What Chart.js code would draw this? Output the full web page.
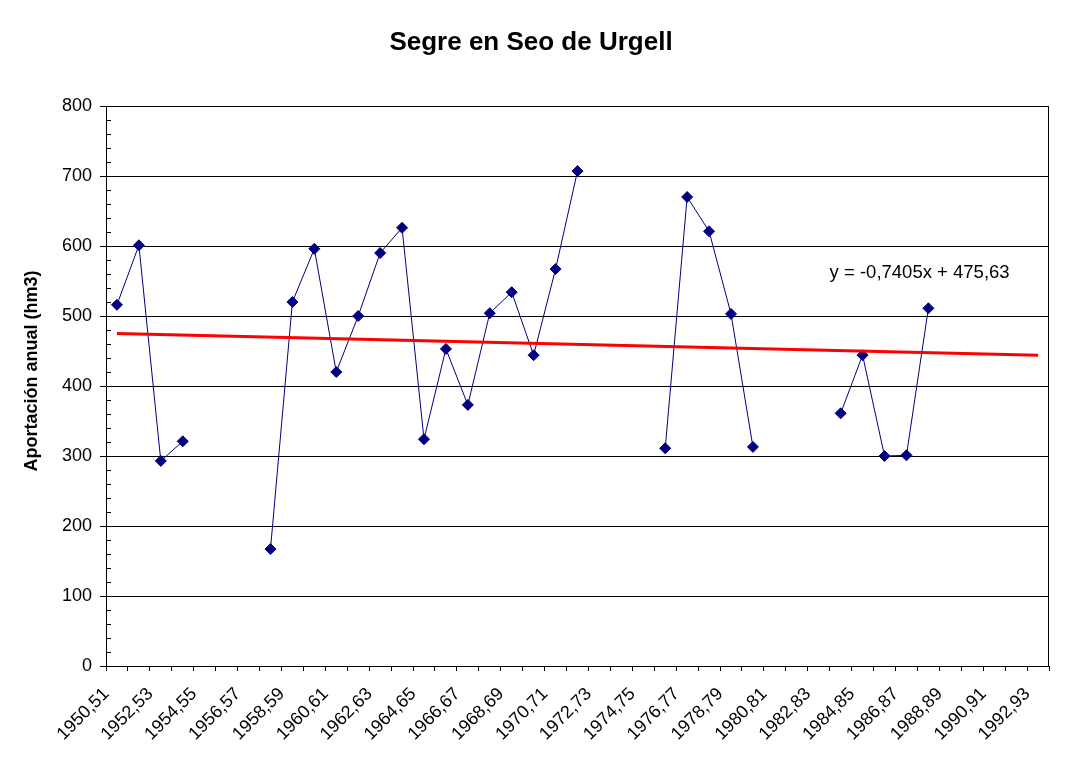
<!DOCTYPE html>
<html>
<head>
<meta charset="utf-8">
<title>Segre en Seo de Urgell</title>
<script src="https://cdn.jsdelivr.net/npm/chart.js@4.4.1/dist/chart.umd.min.js"></script>
<style>
  html, body { margin: 0; padding: 0; background: #fff; }
  canvas { display: block; }
</style>
</head>
<body>
<canvas id="chart" width="1065" height="766"></canvas>
<script>
// años hidrológicos
const years = [
  '1950,51', '1951,52', '1952,53', '1953,54', '1954,55', '1955,56', '1956,57', '1957,58',
  '1958,59', '1959,60', '1960,61', '1961,62', '1962,63', '1963,64', '1964,65', '1965,66',
  '1966,67', '1967,68', '1968,69', '1969,70', '1970,71', '1971,72', '1972,73', '1973,74',
  '1974,75', '1975,76', '1976,77', '1977,78', '1978,79', '1979,80', '1980,81', '1981,82',
  '1982,83', '1983,84', '1984,85', '1985,86', '1986,87', '1987,88', '1988,89', '1989,90',
  '1990,91', '1991,92', '1992,93'
]

// aportación anual (hm3), null = sin dato
const aportacion = [
  516, 601, 293, 321, null, null, null, 167,
  520, 596, 420, 500, 590, 626, 324, 453,
  373, 504, 534, 444, 567, 707, null, null,
  null, 311, 670, 621, 503, 313, null, null,
  null, 361, 444, 300, 301, 511, null, null,
  null, null, null
]

// línea de tendencia: y = -0,7405x + 475,63 (x = 1 ... 43)
const trendStart = 474.89
const trendEnd = 443.79
const trendText = 'y = -0,7405x + 475,63'
const trendTextAt = [36.6, 561]

const titleText = 'Segre en Seo de Urgell'
const yTitle = 'Aportación anual (hm3)'
const yTicks = { min: 0, max: 800, step: 100, minor: 20 }

const trend = years.map((_, i) => i === 0 ? trendStart : (i === years.length - 1 ? trendEnd : null))

const FONT = '"Liberation Sans", Arial, sans-serif'

const extras = {
  id: 'extras',
  beforeDraw(chart) {
    const ctx = chart.ctx
    ctx.save()
    ctx.fillStyle = '#fff'
    ctx.fillRect(0, 0, chart.width, chart.height)
    ctx.restore()
  },
  afterDraw(chart) {
    const { ctx, chartArea: a, scales: { x, y } } = chart
    ctx.save()
    ctx.strokeStyle = '#000'
    ctx.lineWidth = 1
    // marco superior y derecho
    const top = Math.round(a.top) + 0.5
    const right = Math.round(a.right) - 0.5
    ctx.beginPath()
    ctx.moveTo(a.left, top)
    ctx.lineTo(right, top)
    ctx.lineTo(right, a.bottom)
    ctx.stroke()
    // marcas menores del eje y
    ctx.beginPath()
    for (let v = yTicks.min; v <= yTicks.max; v += yTicks.minor) {
      if (v % yTicks.step === 0) continue
      const py = Math.round(y.getPixelForValue(v)) + 0.5
      ctx.moveTo(a.left, py)
      ctx.lineTo(a.left + 5, py)
    }
    ctx.stroke()
    // título
    ctx.fillStyle = '#000'
    ctx.textAlign = 'center'
    ctx.textBaseline = 'middle'
    ctx.font = 'bold 26px ' + FONT
    ctx.fillText(titleText, 531, 43)
    // ecuación de la tendencia
    ctx.font = '18.5px ' + FONT
    ctx.fillText(trendText, x.getPixelForValue(trendTextAt[0]), y.getPixelForValue(trendTextAt[1]))
    ctx.restore()
  }
}

new Chart(document.getElementById('chart').getContext('2d'), {
  type: 'line',
  data: {
    labels: years,
    datasets: [
      {
        label: 'Aportación anual',
        data: aportacion,
        borderColor: '#000080',
        backgroundColor: '#000080',
        borderWidth: 1,
        pointStyle: 'rectRot',
        pointRadius: 5.5,
        pointBorderWidth: 1,
        pointBackgroundColor: '#000080',
        pointBorderColor: '#000080',
        spanGaps: false,
        tension: 0,
        order: 2
      },
      {
        label: 'Tendencia',
        data: trend,
        borderColor: '#ff0000',
        borderWidth: 3,
        pointRadius: 0,
        spanGaps: true,
        tension: 0,
        order: 1
      }
    ]
  },
  options: {
    responsive: false,
    animation: false,
    devicePixelRatio: 1,
    layout: { padding: { left: 0, right: 16, top: 106, bottom: 0 } },
    plugins: {
      legend: { display: false },
      tooltip: { enabled: false },
      title: { display: false }
    },
    scales: {
      x: {
        type: 'category',
        offset: true,
        grid: { offset: true, drawOnChartArea: false, color: '#000', tickColor: '#000', tickLength: 5 },
        border: { color: '#000' },
        ticks: {
          autoSkip: false,
          minRotation: 45,
          maxRotation: 45,
          color: '#000',
          padding: 2,
          font: { family: FONT, size: 18 },
          // los espacios finales desplazan la etiqueta a lo largo de la diagonal
          callback: (v, i) => (i % 2 === 0 ? years[i] + '   ' : '')
        },
        afterFit: s => { s.height = 100 }
      },
      y: {
        min: yTicks.min,
        max: yTicks.max,
        grid: { color: '#000', tickColor: '#000', tickLength: 6 },
        border: { color: '#000' },
        ticks: { stepSize: yTicks.step, color: '#000', padding: 8, font: { family: FONT, size: 18 } },
        title: {
          display: true,
          text: '      ' + yTitle,
          color: '#000',
          font: { family: FONT, size: 18, weight: 'bold' },
          padding: { top: 21 }
        },
        afterFit: s => { s.width = 106 }
      }
    }
  },
  plugins: [extras]
})
</script>
</body>
</html>
